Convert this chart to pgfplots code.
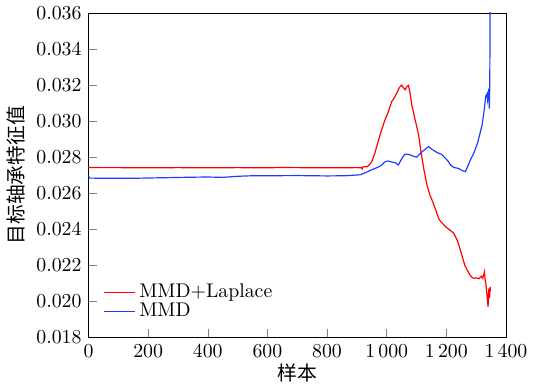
\documentclass[border=0pt]{standalone}
\usepackage{pgfplots}
\pgfplotsset{compat=1.18}
\usepackage{fontspec}
\newfontfamily\cjk{Noto Sans CJK SC}
\definecolor{mred}{RGB}{255,0,0}
\definecolor{mblue}{RGB}{30,60,255}
\begin{document}
\begin{tikzpicture}
\begin{axis}[
  scale only axis,
  width=211pt, height=164pt,
  xmin=0, xmax=1400, ymin=0.018, ymax=0.036,
  xtick={0,200,400,600,800,1000,1200,1400},
  xticklabels={0,200,400,600,800,1\,000,1\,200,1\,400},
  ytick={0.018,0.020,0.022,0.024,0.026,0.028,0.030,0.032,0.034,0.036},
  yticklabel style={/pgf/number format/fixed,/pgf/number format/fixed zerofill,/pgf/number format/precision=3},
  scaled y ticks=false,
  tick pos=left, tick align=inside,
  xlabel={\cjk 样本}, ylabel={\cjk 目标轴承特征值},
  xlabel style={yshift=4pt}, ylabel style={yshift=-1pt},
  legend style={draw=none, fill=none, at={(0.02,0.03)}, anchor=south west, font=\normalsize, row sep=-3pt},
  legend cell align=left,
  legend image code/.code={\draw[#1, line width=0.6pt] (0cm,0cm) -- (0.55cm,0cm);},
]
\addplot[color=mred, line width=0.6pt] coordinates {
(0,0.02743)(50,0.02742)(100,0.02742)(200,0.02741)(300,0.02742)(400,0.02741)(500,0.02742)(600,0.02741)(650,0.02743)(700,0.02742)(800,0.02741)(900,0.02742)(915,0.02741)(918,0.02735)(920,0.02746)(935,0.02748)(943,0.02760)(950,0.02775)(960,0.02820)(970,0.02880)(983,0.02952)(995,0.03010)(1005,0.03050)(1010,0.03075)(1017,0.03109)(1022,0.03120)(1027,0.03135)(1034,0.03156)(1042,0.03185)(1050,0.03200)(1055,0.03188)(1062,0.03174)(1068,0.03192)(1073,0.03198)(1078,0.03160)(1084,0.03091)(1095,0.03010)(1107,0.02924)(1115,0.02830)(1125,0.02730)(1135,0.02646)(1145,0.02590)(1155,0.02550)(1165,0.02505)(1174,0.02461)(1180,0.02445)(1190,0.02428)(1197,0.02415)(1210,0.02398)(1225,0.02378)(1235,0.02345)(1242,0.02313)(1255,0.02240)(1262,0.02200)(1270,0.02174)(1278,0.02150)(1285,0.02135)(1292,0.02128)(1300,0.02130)(1310,0.02126)(1318,0.02140)(1322,0.02128)(1328,0.02165)(1330,0.02120)(1332,0.02109)(1336,0.02040)(1340,0.01970)(1342,0.02060)(1343,0.02072)(1345,0.02017)(1347,0.02080)(1348,0.02060)
};
\addlegendentry{MMD+Laplace}
\addplot[color=mblue, line width=0.6pt] coordinates {
(0,0.02700)(3,0.02684)(50,0.02683)(150,0.02683)(250,0.02686)(350,0.02689)(400,0.02690)(450,0.02688)(500,0.02694)(550,0.02697)(600,0.02697)(700,0.02698)(800,0.02696)(860,0.02697)(910,0.02702)(930,0.02715)(949,0.02730)(965,0.02740)(980,0.02752)(995,0.02775)(1005,0.02779)(1020,0.02772)(1030,0.02768)(1039,0.02757)(1050,0.02790)(1060,0.02815)(1067,0.02817)(1080,0.02812)(1090,0.02805)(1101,0.02800)(1115,0.02825)(1130,0.02845)(1140,0.02859)(1155,0.02840)(1170,0.02825)(1185,0.02815)(1191,0.02804)(1205,0.02780)(1215,0.02755)(1225,0.02743)(1240,0.02738)(1255,0.02725)(1264,0.02720)(1272,0.02750)(1282,0.02790)(1292,0.02822)(1305,0.02880)(1320,0.02979)(1327,0.03060)(1332,0.03137)(1336,0.03150)(1338,0.03120)(1340,0.03156)(1342,0.03180)(1344,0.03070)(1345,0.03100)(1346,0.03300)(1347,0.03700)
};
\addlegendentry{MMD}
\end{axis}
\end{tikzpicture}
\end{document}
